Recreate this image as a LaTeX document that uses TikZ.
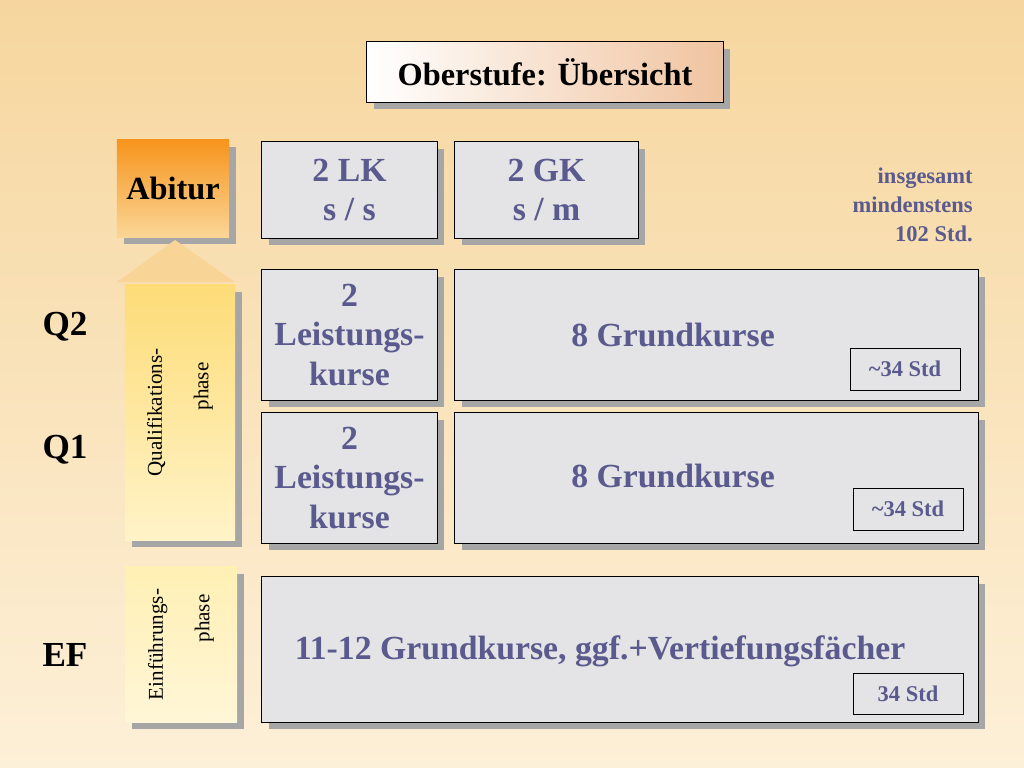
\documentclass[tikz,border=0pt]{standalone}
\usepackage{fontspec}
\setmainfont{Liberation Serif}[BoldFont=* Bold]
\usetikzlibrary{shadows,positioning}
\definecolor{slate}{HTML}{5A5A8E}
\definecolor{boxgray}{HTML}{E4E4E6}
\definecolor{bgtop}{RGB}{246,214,158}
\definecolor{bgbottom}{RGB}{253,240,216}
\definecolor{titelrechts}{RGB}{240,196,160}
\definecolor{abiturtop}{RGB}{247,148,29}
\definecolor{abiturbottom}{RGB}{250,214,150}
\definecolor{qtop}{RGB}{253,220,120}
\definecolor{qbottom}{RGB}{255,243,200}
\definecolor{pfeil}{RGB}{248,212,150}
\definecolor{etop}{RGB}{255,240,180}
\definecolor{ebottom}{RGB}{255,246,215}
\tikzset{
	kurs/.style={draw=black, line width=0.7pt, fill=boxgray, inner sep=0pt, align=center,
		font=\bfseries\fontsize{24}{28}\selectfont, text=slate,
		drop shadow={shadow xshift=0.17cm, shadow yshift=-0.17cm, fill=black!35, opacity=1}},
	kurstext/.style={inner sep=0pt, align=center, font=\bfseries\fontsize{24}{28}\selectfont, text=slate},
	phase/.style={inner sep=0pt, align=center, font=\fontsize{14}{17}\selectfont,
		drop shadow={shadow xshift=0.17cm, shadow yshift=-0.17cm, fill=black!35, opacity=1}},
	stunden/.style={draw=black, line width=0.7pt, fill=boxgray, inner sep=0pt,
		font=\bfseries\fontsize{16}{18}\selectfont, text=slate},
	stufe/.style={font=\bfseries\fontsize{25}{28}\selectfont}
}
\begin{document}
\begin{tikzpicture}[x=0.025cm,y=-0.025cm]
	\shade[top color=bgtop, bottom color=bgbottom] (0,0) rectangle (1024,768);
	\useasboundingbox (0,0) rectangle (1024,768);
	% Titel
	\node[kurs, minimum width=8.9cm, minimum height=1.5cm, left color=white, right color=titelrechts, text=black, font=\bfseries\fontsize{23}{26}\selectfont] (titel) at (545,72) {Oberstufe: Übersicht};
	% Phasen
	\node[phase, minimum width=2.8cm, minimum height=2.425cm, top color=abiturtop, bottom color=abiturbottom, font=\bfseries\fontsize{23}{26}\selectfont] (abitur) at (173,188.5) {Abitur};
	\node[phase, minimum width=2.75cm, minimum height=6.375cm, top color=qtop, bottom color=qbottom] (qphase) at (180,412.5) {};
	\fill[pfeil] (117,282) -- (175,240) -- (235,282) -- cycle;
	\node[rotate=90, align=center, font=\fontsize{15}{33}\selectfont] (qtext) at (qphase) {Qualifikations-\\\hspace*{1.3cm}phase};
	\node[phase, minimum width=2.8cm, minimum height=3.875cm, top color=etop, bottom color=ebottom] (ephase) at (181,644.5) {};
	\node[rotate=90, align=center, font=\fontsize{15}{33}\selectfont] (etext) at (ephase) {Einführungs-\\\hspace*{1.3cm}phase};
	% Stufen
	\node[stufe] (q2) at (65,327) {Q2};
	\node[stufe] (q1) at (65,450) {Q1};
	\node[stufe] (ef) at (65,655) {EF};
	% Abitur
	\node[kurs, minimum width=4.375cm, minimum height=2.4cm] (lk) at (349.5,190) {2 LK\\s / s};
	\node[kurs, minimum width=4.575cm, minimum height=2.4cm] (gk) at (546.5,190) {2 GK\\s / m};
	\node[align=right, anchor=north east, inner sep=0pt, text=slate, font=\bfseries\fontsize{16}{20.5}\selectfont] (gesamt) at (973,168) {insgesamt\\mindenstens\\102 Std.};
	% Q2 und Q1
	\node[kurs, minimum width=4.375cm, minimum height=3.25cm] (lkzwei) at (349.5,335) {2\\Leistungs-\\kurse};
	\node[kurs, minimum width=13.075cm, minimum height=3.25cm] (gkzwei) at (716.5,335) {};
	\node[kurstext] (gkzweitext) at (673,335) {8 Grundkurse};
	\node[stunden, minimum width=2.75cm, minimum height=1.05cm] (stdzwei) at (905,369) {\textasciitilde 34 Std};
	\node[kurs, minimum width=4.375cm, minimum height=3.25cm] (lkeins) at (349.5,478) {2\\Leistungs-\\kurse};
	\node[kurs, minimum width=13.075cm, minimum height=3.25cm] (gkeins) at (716.5,478) {};
	\node[kurstext] (gkeinstext) at (673,476) {8 Grundkurse};
	\node[stunden, minimum width=2.75cm, minimum height=1.05cm] (stdeins) at (908,509) {\textasciitilde 34 Std};
	% EF
	\node[kurs, minimum width=17.9cm, minimum height=3.625cm] (efbox) at (620,649.5) {};
	\node[kurstext] (eftext) at (600,651) {11-12 Grundkurse, ggf.+Vertiefungsfächer};
	\node[stunden, minimum width=2.75cm, minimum height=1.025cm] (stdef) at (908,693.5) {34 Std};
\end{tikzpicture}
\end{document}
